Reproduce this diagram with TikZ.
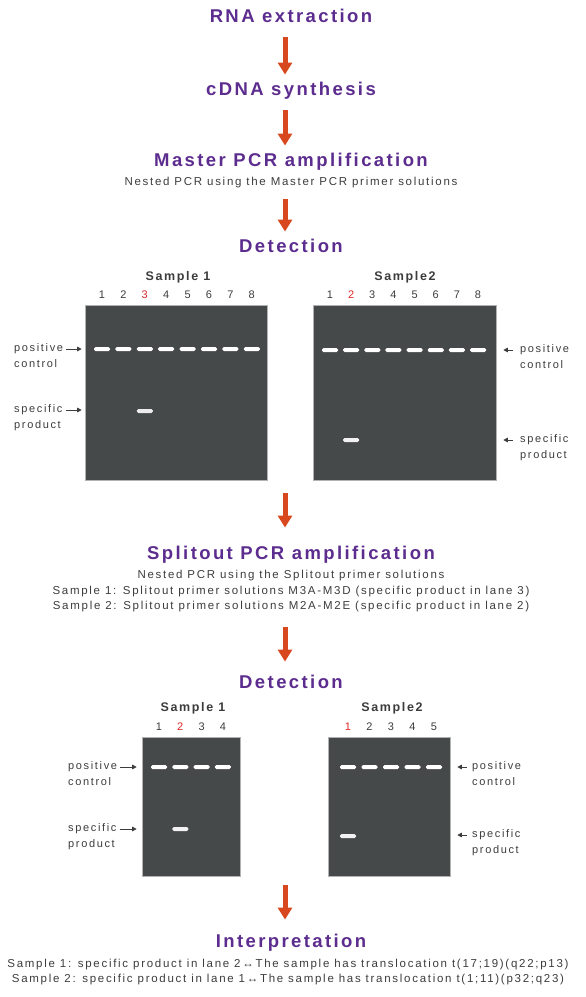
\documentclass[tikz,border=0pt]{standalone}
\usepackage{fontspec}
\setmainfont{Liberation Sans}
\newfontfamily\ttlfont[LetterSpace=13]{Liberation Sans Bold}
\newfontfamily\smlfont[LetterSpace=15]{Liberation Sans}
\usetikzlibrary{arrows.meta,positioning}
\definecolor{ttlpurple}{RGB}{92,44,142}
\definecolor{flowred}{RGB}{216,72,30}
\definecolor{gelgray}{RGB}{70,73,74}
\definecolor{lanered}{RGB}{222,40,40}
\definecolor{txtgray}{RGB}{60,60,60}

\begin{document}
\begin{tikzpicture}[x=1pt, y=-1pt,
    title/.style={font=\ttlfont\fontsize{18.5}{20}\selectfont, text=ttlpurple, text height=13pt, text depth=3.5pt, inner sep=0pt},
    note/.style={font=\smlfont\fontsize{11.5}{13}\selectfont, text=txtgray, text height=8pt, text depth=2.5pt, inner sep=0pt},
    flow/.style={draw=flowred, line width=5pt, -{Triangle[width=14pt,length=12pt]}},
    gel/.style={fill=gelgray, draw=gray!60, line width=0.6pt, inner sep=0pt},
    band/.style={fill=white, rounded corners=1.5pt},
    lane/.style={font=\smlfont\fontsize{11}{13}\selectfont, inner sep=0pt},
    sample/.style={font=\ttlfont\fontsize{12.5}{14}\selectfont, text=txtgray, inner sep=0pt},
    lbl/.style={font=\smlfont\fontsize{11}{12}\selectfont, text=txtgray, inner sep=0pt, text height=7.5pt, text depth=2pt},
    tick/.style={draw=txtgray, line width=0.8pt, -{Triangle[width=4.5pt,length=4.5pt]}}
]
    \useasboundingbox (0,0) rectangle (586,997);

    % 步骤
    \node[title] (rna) at (291,18) {RNA extraction};
    \node[title] (cdna) at (291,91) {cDNA synthesis};
    \node[title] (master) at (291,162) {Master PCR amplification};
    \node[note] (mastersub) at (291,183) {Nested PCR using the Master PCR primer solutions};
    \node[title] (det1) at (291,248) {Detection};

    \draw[flow, shorten <=11pt, shorten >=8pt] ([xshift=-6pt]rna.south) -- ([xshift=-6pt]cdna.north);
    \draw[flow, shorten <=11pt, shorten >=8pt] ([xshift=-6pt]cdna.south) -- ([xshift=-6pt]master.north);
    \draw[flow, shorten <=11pt, shorten >=8pt] ([xshift=-6pt]mastersub.south) -- ([xshift=-6pt]det1.north);

    % 凝胶 1 (Sample 1)
    \node[sample] (s1) at (178,277) {Sample 1};
    \node[gel, minimum width=182pt, minimum height=175pt] (gelA) at (176,392.5) {};
    \foreach \i/\c in {1/txtgray,2/txtgray,3/lanered,4/txtgray,5/txtgray,6/txtgray,7/txtgray,8/txtgray}
        \node[lane, text=\c] (gelAn\i) at (102+21.4*\i-21.4, 295) {\i};
    \foreach \i in {0,...,7}
        \fill[band] (94+21.4*\i, 347) rectangle ++(16,4);
    \fill[band, fill=white!85!gray] (136.8,409) rectangle ++(16,4);

    \node[lbl, anchor=west] (gelApc) at (14,349) {positive};
    \node[lbl, below=6pt of gelApc.south west, anchor=north west] (gelApc2) {control};
    \node[lbl, anchor=west] (gelAsp) at (14,410) {specific};
    \node[lbl, below=6pt of gelAsp.south west, anchor=north west] (gelAsp2) {product};
    \draw[tick, shorten <=3pt, shorten >=3pt] (gelApc.east) -- (gelApc.east -| gelA.west);
    \draw[tick, shorten <=3pt, shorten >=3pt] (gelAsp.east) -- (gelAsp.east -| gelA.west);

    % 凝胶 2 (Sample 2)
    \node[sample] (s2) at (405,277) {Sample2};
    \node[gel, minimum width=183pt, minimum height=175pt] (gelB) at (404.5,392.5) {};
    \foreach \i/\c in {1/txtgray,2/lanered,3/txtgray,4/txtgray,5/txtgray,6/txtgray,7/txtgray,8/txtgray}
        \node[lane, text=\c] (gelBn\i) at (330+21.15*\i-21.15, 295) {\i};
    \foreach \i in {0,...,7}
        \fill[band] (322+21.15*\i, 348) rectangle ++(16,4);
    \fill[band, fill=white!90!gray] (343.2,438) rectangle ++(16,4);

    \node[lbl, anchor=west] (gelBpc) at (520,350) {positive};
    \node[lbl, below=6pt of gelBpc.south west, anchor=north west] (gelBpc2) {control};
    \node[lbl, anchor=west] (gelBsp) at (520,440) {specific};
    \node[lbl, below=6pt of gelBsp.south west, anchor=north west] (gelBsp2) {product};
    \draw[tick, shorten <=7pt, shorten >=7pt] (gelBpc.west) -- (gelBpc.west -| gelB.east);
    \draw[tick, shorten <=7pt, shorten >=7pt] (gelBsp.west) -- (gelBsp.west -| gelB.east);

    % Splitout
    \coordinate (gelmid1) at (285,481);
    \node[title] (split) at (291,555) {Splitout PCR amplification};
    \node[note] (splitsub) at (291,576) {Nested PCR using the Splitout primer solutions};
    \node[note] (splitl1) at (291,592) {Sample 1: Splitout primer solutions M3A-M3D (specific product in lane 3)};
    \node[note] (splitl2) at (291,607) {Sample 2: Splitout primer solutions M2A-M2E (specific product in lane 2)};
    \node[title] (det2) at (291,684) {Detection};

    \draw[flow, shorten <=12pt, shorten >=19pt] (gelmid1) -- ([xshift=-6pt]split.north);
    \draw[flow, shorten <=15pt, shorten >=14pt] ([xshift=-6pt]splitl2.south) -- ([xshift=-6pt]det2.north);

    % 凝胶 3 (Sample 1)
    \node[sample] (s3) at (193,708) {Sample 1};
    \node[gel, minimum width=98pt, minimum height=139pt] (gelC) at (191,806.5) {};
    \foreach \i/\c in {1/txtgray,2/lanered,3/txtgray,4/txtgray}
        \node[lane, text=\c] (gelCn\i) at (159+21.3*\i-21.3, 727) {\i};
    \foreach \i in {0,...,3}
        \fill[band] (151+21.3*\i, 765) rectangle ++(16,4);
    \fill[band, fill=white!90!gray] (172.3,827) rectangle ++(16,4);

    \node[lbl, anchor=west] (gelCpc) at (68,767) {positive};
    \node[lbl, below=6pt of gelCpc.south west, anchor=north west] (gelCpc2) {control};
    \node[lbl, anchor=west] (gelCsp) at (68,829) {specific};
    \node[lbl, below=6pt of gelCsp.south west, anchor=north west] (gelCsp2) {product};
    \draw[tick, shorten <=3pt, shorten >=5pt] (gelCpc.east) -- (gelCpc.east -| gelC.west);
    \draw[tick, shorten <=3pt, shorten >=5pt] (gelCsp.east) -- (gelCsp.east -| gelC.west);

    % 凝胶 4 (Sample 2)
    \node[sample] (s4) at (392,708) {Sample2};
    \node[gel, minimum width=122pt, minimum height=139pt] (gelD) at (389,806.5) {};
    \foreach \i/\c in {1/lanered,2/txtgray,3/txtgray,4/txtgray,5/txtgray}
        \node[lane, text=\c] (gelDn\i) at (348+21.5*\i-21.5, 727) {\i};
    \foreach \i in {0,...,4}
        \fill[band] (340+21.5*\i, 765) rectangle ++(16,4);
    \fill[band, fill=white!90!gray] (340,834) rectangle ++(16,4);

    \node[lbl, anchor=west] (gelDpc) at (472,767) {positive};
    \node[lbl, below=6pt of gelDpc.south west, anchor=north west] (gelDpc2) {control};
    \node[lbl, anchor=west] (gelDsp) at (472,835) {specific};
    \node[lbl, below=6pt of gelDsp.south west, anchor=north west] (gelDsp2) {product};
    \draw[tick, shorten <=5pt, shorten >=7pt] (gelDpc.west) -- (gelDpc.west -| gelD.east);
    \draw[tick, shorten <=5pt, shorten >=7pt] (gelDsp.west) -- (gelDsp.west -| gelD.east);

    % Interpretation
    \coordinate (gelmid2) at (285,876);
    \node[title] (interp) at (291,943) {Interpretation};
    \node[note] (res1) at (288,965) {Sample 1: specific product in lane 2↔The sample has translocation t(17;19)(q22;p13)};
    \node[note] (res2) at (288,980) {Sample 2: specific product in lane 1↔The sample has translocation t(1;11)(p32;q23)};

    \draw[flow, shorten <=9pt, shorten >=15pt] (gelmid2) -- ([xshift=-6pt]interp.north);
\end{tikzpicture}
\end{document}
